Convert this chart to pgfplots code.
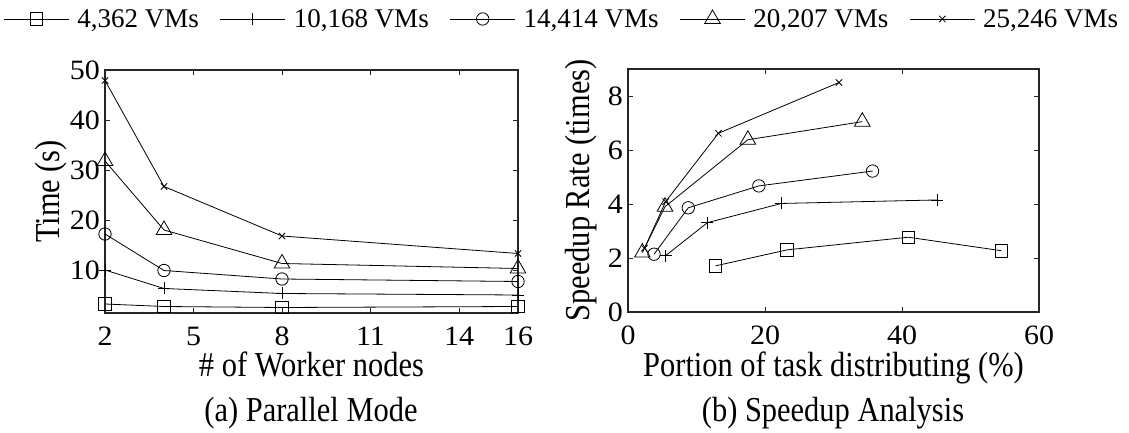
\documentclass[border=0pt]{standalone}
\usepackage{pgfplots}
\pgfplotsset{compat=1.18}
\usepackage{fontspec}
\setmainfont{Liberation Serif}
\newfontfamily\labfont{Liberation Serif}[FakeStretch=0.87]
\newfontfamily\tickfont{Liberation Serif}[FakeStretch=1.07]

\pgfplotsset{
 mystyle/.style={
  scale only axis,
  anchor=south west,
  clip=false,
  axis line style={line width=1.1pt, black!85},
  tick style={line width=0.8pt, black!85},
  major tick length=5pt,
  tick align=inside,
  /pgf/number format/assume math mode=true,
  tick label style={font=\fontsize{28}{30}\selectfont\tickfont},
  xticklabel style={anchor=north, inner sep=0pt, yshift=-14pt},
  yticklabel style={anchor=east, inner sep=0pt, xshift=-5pt},
  label style={font=\fontsize{35}{40}\selectfont\labfont},
 },
 base/.style={black, line width=0.8pt},
 sq/.style={base, mark=square, mark size=6.2pt, mark options={solid, fill=none, line width=0.8pt}},
 pl/.style={base, mark=+, mark size=6pt, mark options={solid, line width=0.8pt}},
 ci/.style={base, mark=o, mark size=6.2pt, mark options={solid, fill=none, line width=0.8pt}},
 tr/.style={base, mark=triangle, mark size=9pt, mark options={solid, fill=none, line width=0.8pt}},
 xx/.style={base, mark=x, mark size=4.5pt, mark options={solid, line width=0.8pt}},
}

\begin{document}
\begin{tikzpicture}
\useasboundingbox (0,0) rectangle (1129pt,433pt);

\begin{axis}[mystyle,
  at={(105pt,120pt)}, width=413pt, height=243pt,
  xmin=2, xmax=16, ymin=1.4, ymax=50,
  xtick={2,5,8,11,14,16}, ytick={10,20,30,40,50},
  xlabel={\# of Worker nodes}, ylabel={Time (s)},
  xlabel style={at={(axis description cs:0.5,0)}, anchor=base, yshift=-64pt},
  ylabel style={at={(axis description cs:-0.109,0.5)}, anchor=base},
  legend columns=5,
  legend style={at={(1.104,1.21)}, anchor=center, draw=none, fill=none,
    font=\fontsize{27}{30}\selectfont, nodes={inner sep=0pt},
    /tikz/every odd column/.append style={column sep=8pt},
    /tikz/every even column/.append style={column sep=21pt}},
  legend image code/.code={\draw[mark repeat=2,mark phase=2,#1] plot coordinates {(0pt,0pt) (32.5pt,0pt) (65pt,0pt)};},
]
\addplot[sq] coordinates {(2,3.2) (4,2.7) (8,2.5) (16,2.7)};
\addlegendentry{4,362 VMs}
\addplot[pl] coordinates {(2,10) (4,6.3) (8,5.3) (16,5.0)};
\addlegendentry{10,168 VMs}
\addplot[ci] coordinates {(2,17.2) (4,9.9) (8,8.2) (16,7.7)};
\addlegendentry{14,414 VMs}
\addplot[tr] coordinates {(2,31.8) (4,18.0) (8,11.3) (16,10.3)};
\addlegendentry{20,207 VMs}
\addplot[xx] coordinates {(2,47.9) (4,26.7) (8,16.8) (16,13.3)};
\addlegendentry{25,246 VMs}
\end{axis}

\begin{axis}[mystyle,
  at={(628pt,121pt)}, width=411pt, height=243pt,
  xmin=0, xmax=60, ymin=0, ymax=9,
  xtick={0,20,40,60}, ytick={0,2,4,6,8},
  xlabel={Portion of task distributing (\%)}, ylabel={Speedup Rate (times)},
  xlabel style={at={(axis description cs:0.5,0)}, anchor=base, yshift=-65pt},
  ylabel style={at={(axis description cs:-0.0925,0.5)}, anchor=base},
]
\addplot[sq] coordinates {(12.8,1.71) (23.2,2.3) (40.9,2.77) (54.5,2.27)};
\addplot[pl] coordinates {(5.5,2.09) (11.6,3.31) (22.4,4.02) (45.1,4.15)};
\addplot[ci] coordinates {(3.8,2.14) (8.8,3.86) (19.1,4.67) (35.7,5.22)};
\addplot[tr] coordinates {(2.1,2.2) (5.4,3.9) (17.5,6.38) (34.2,7.05)};
\addplot[xx] coordinates {(2.4,2.36) (5.5,4.09) (13.2,6.62) (30.8,8.5)};
\end{axis}

\node[anchor=base, font=\fontsize{35}{40}\selectfont\labfont] at (311pt,11pt) {(a) Parallel Mode};
\node[anchor=base, font=\fontsize{35}{40}\selectfont\labfont] at (833pt,11pt) {(b) Speedup Analysis};
\end{tikzpicture}
\end{document}
